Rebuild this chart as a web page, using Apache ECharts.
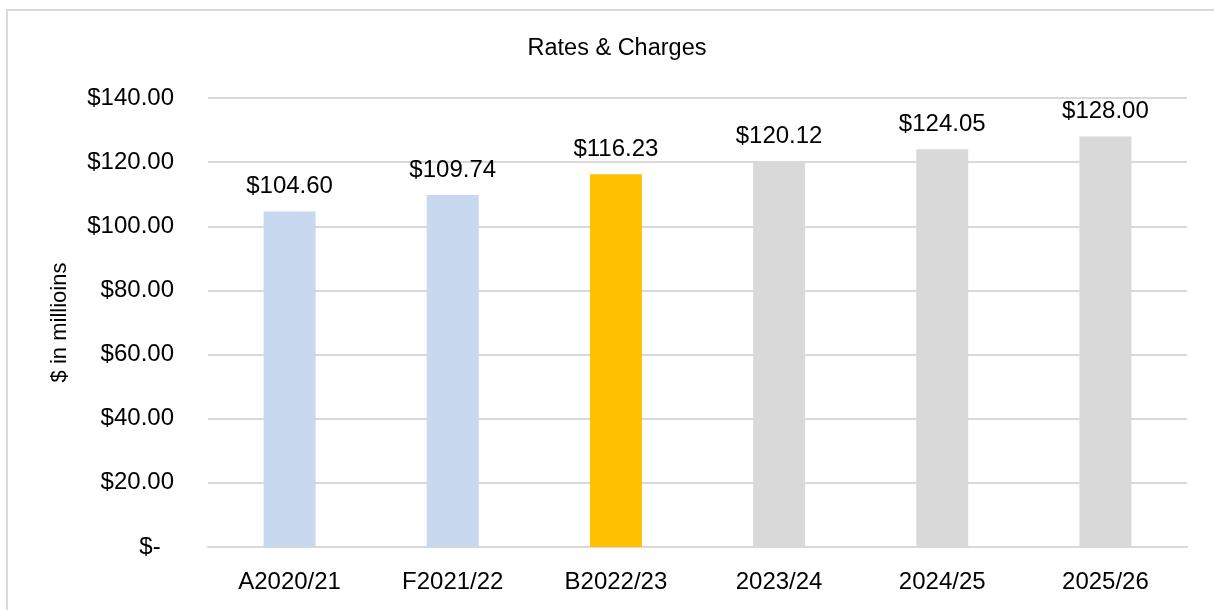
<!DOCTYPE html>
<html>
<head>
<meta charset="utf-8">
<script src="https://cdn.jsdelivr.net/npm/echarts@6/dist/echarts.min.js"></script>
<style>
  html, body { margin: 0; padding: 0; background: #fff; }
  #rates_chart { width: 1214px; height: 610px; }
</style>
</head>
<body>
<div id="rates_chart"></div>
<script>
var categories = ['A2020/21', 'F2021/22', 'B2022/23', '2023/24', '2024/25', '2025/26'];
var ratesValues = [104.60, 109.74, 116.23, 120.12, 124.05, 128.00];
var barColors = ['#C7D8EF', '#C7D8EF', '#FFC000', '#D9D9D9', '#D9D9D9', '#D9D9D9'];
var yTicks = { min: 0, max: 140, interval: 20 };

var font = '"Liberation Sans", Arial, sans-serif';

var chart = echarts.init(document.getElementById('rates_chart'));
var options = {
  animation: false,
  textStyle: { fontFamily: font },
  title: {
    text: 'Rates & Charges',
    left: 612,
    top: 32,
    textAlign: 'center',
    textStyle: { fontFamily: font, fontSize: 23.5, fontWeight: 'normal', color: '#000' }
  },
  // light frame round the chart (only left and top edges show in the window)
  graphic: [{
    type: 'rect',
    silent: true,
    shape: { x: 7, y: 10, width: 1230, height: 640 },
    style: { fill: 'none', stroke: '#D9D9D9', lineWidth: 2 }
  }],
  grid: { left: 208, right: 27, top: 98, bottom: 63 },
  xAxis: {
    type: 'category',
    data: categories,
    axisTick: { show: false },
    axisLine: { lineStyle: { color: '#D9D9D9', width: 2 } },
    axisLabel: { fontFamily: font, fontSize: 24, color: '#000', margin: 23 }
  },
  yAxis: {
    type: 'value',
    min: yTicks.min,
    max: yTicks.max,
    interval: yTicks.interval,
    name: '$ in millioins',
    nameLocation: 'middle',
    nameGap: 137,
    nameTextStyle: { fontFamily: font, fontSize: 22, color: '#000' },
    axisLine: { show: false },
    axisTick: { show: false },
    splitLine: { lineStyle: { color: '#D9D9D9', width: 2 } },
    axisLabel: {
      fontFamily: font, fontSize: 24, color: '#000', margin: 34,
      formatter: function (v) { return v === 0 ? '$-  ' : '$' + v.toFixed(2); }
    }
  },
  series: [{
    type: 'bar',
    barWidth: 52,
    data: ratesValues.map(function (v, i) {
      return { value: v, itemStyle: { color: barColors[i] } };
    }),
    label: {
      show: true,
      position: 'top',
      distance: 13,
      fontFamily: font,
      fontSize: 24,
      color: '#000',
      formatter: function (p) { return '$' + p.value.toFixed(2); }
    }
  }]
};
chart.setOption(options);
</script>
</body>
</html>
